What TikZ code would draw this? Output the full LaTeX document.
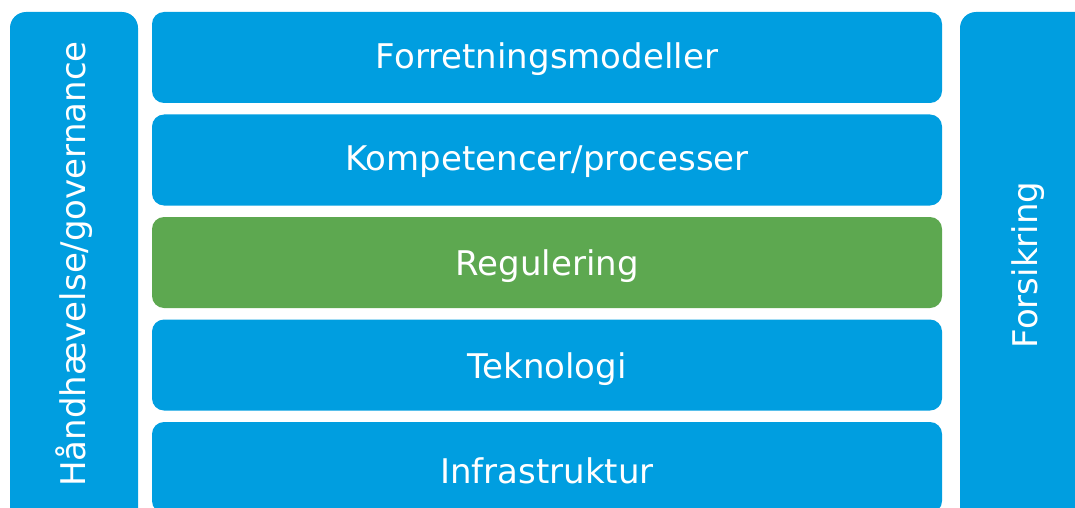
\documentclass[tikz,border=0pt]{standalone}
\usepackage{fontspec}
\setmainfont{DejaVu Sans}
\definecolor{boxblue}{HTML}{009EE0}
\definecolor{boxgreen}{HTML}{5DA850}
\begin{document}
\begin{tikzpicture}[x=1pt,y=-1pt,
  layer/.style={fill=boxblue, draw=none, rounded corners=12pt},
  lbl/.style={text=white, font=\fontsize{34}{38}\selectfont, inner sep=0pt}]
\useasboundingbox (0,0) rectangle (1075,508);
\begin{scope}
\clip (0,0) rectangle (1075,508);
\fill[layer, rounded corners=16pt] (10,12) rectangle (138,525);
\fill[layer, rounded corners=16pt] (960,12) rectangle (1100,525);
\fill[layer] (152,12) rectangle (942,103);
\fill[layer] (152,114.5) rectangle (942,205.5);
\fill[layer, fill=boxgreen] (152,217) rectangle (942,308);
\fill[layer] (152,319.5) rectangle (942,410.5);
\fill[layer] (152,422) rectangle (942,513);
\end{scope}
\node[lbl] (l1) at (547,59) {Forretningsmodeller};
\node[lbl] (l2) at (547,162) {Kompetencer/processer};
\node[lbl] (l3) at (547,266) {Regulering};
\node[lbl] (l4) at (547,369) {Teknologi};
\node[lbl] (l5) at (547,471) {Infrastruktur};
\node[lbl, rotate=90] (gov) at (74,264) {Håndhævelse/governance};
\node[lbl, rotate=90] (fors) at (1028,265) {Forsikring};
\end{tikzpicture}
\end{document}
